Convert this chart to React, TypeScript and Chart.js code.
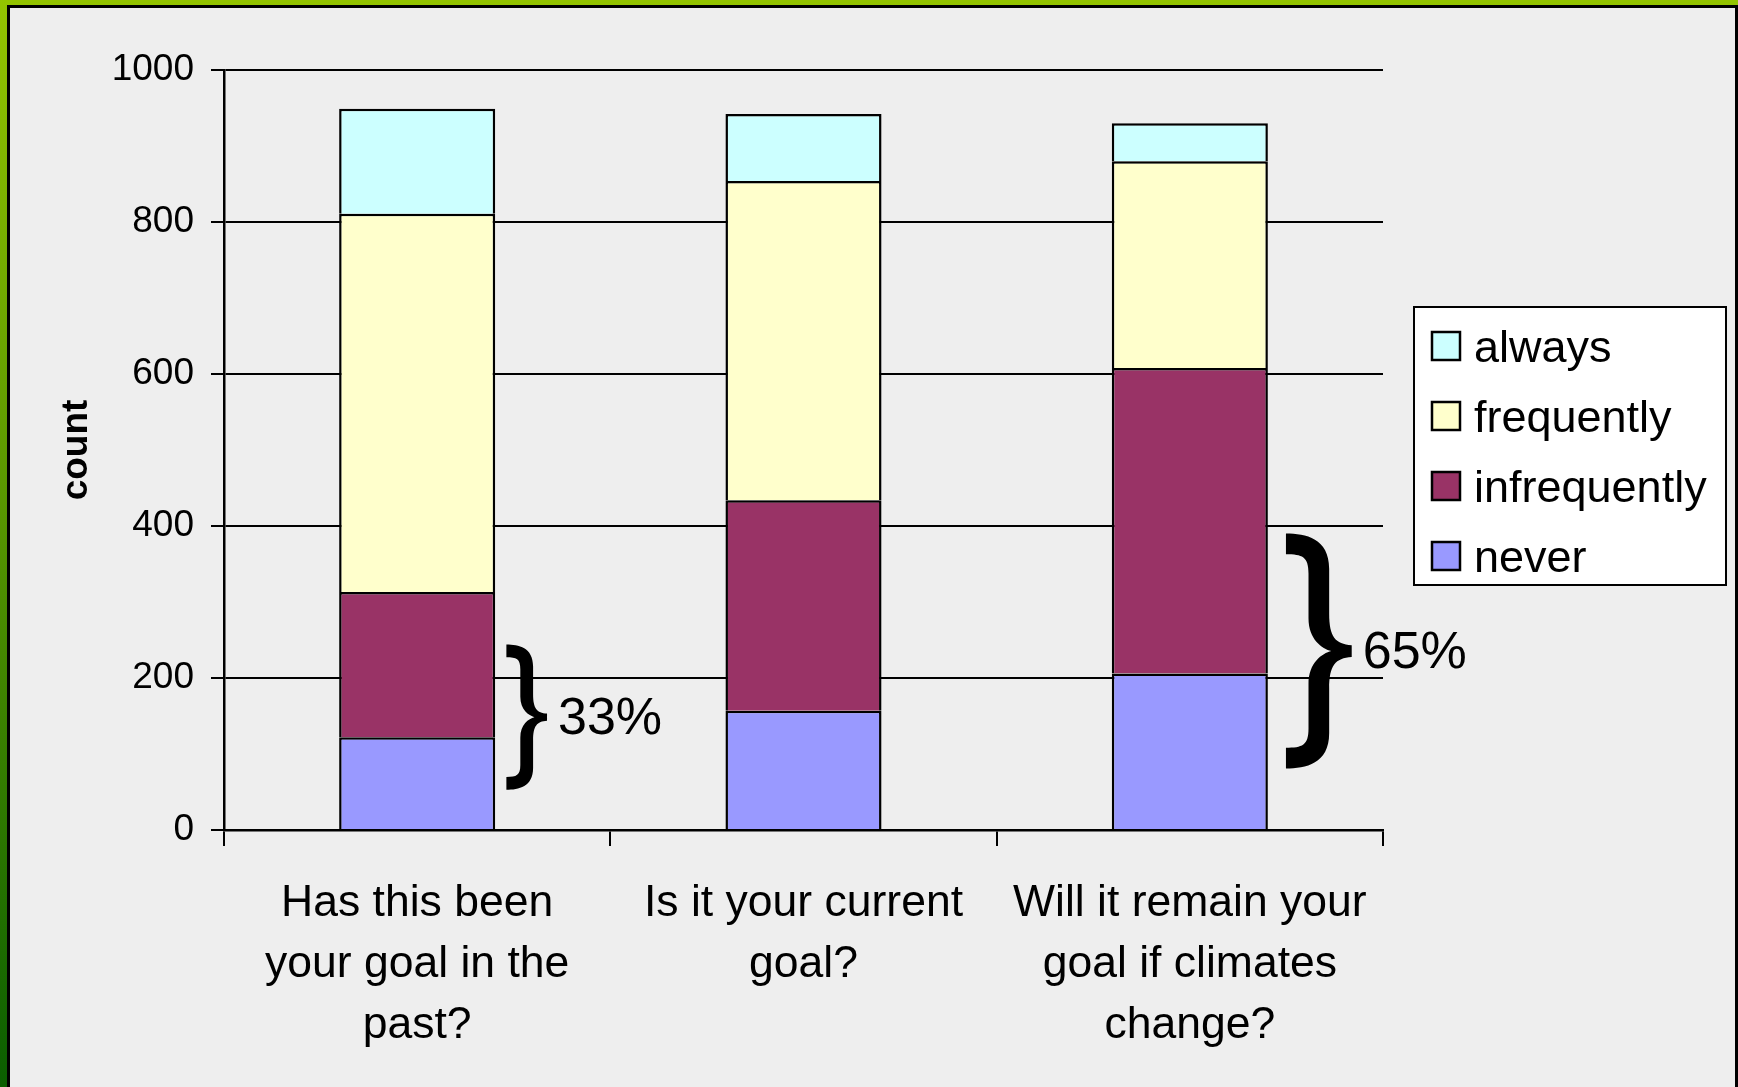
import React, { useEffect, useRef } from "react";
import { Chart, registerables } from "chart.js";

Chart.register(...registerables);

const FONT = "'Liberation Sans', Arial, Helvetica, sans-serif";

// ---- data ----
const categories = [
  ["Has this been", "your goal in the", "past?"],
  ["Is it your current", "goal?"],
  ["Will it remain your", "goal if climates", "change?"],
];
const seriesNames = ["never", "infrequently", "frequently", "always"];
const neverValues = [122, 157, 206];
const infrequentlyValues = [191, 277, 402];
const frequentlyValues = [498, 420, 272];
const alwaysValues = [138, 88, 50];
const yTickValues = [0, 200, 400, 600, 800, 1000];
const yTitle = "count";
// brace annotations (value ranges on the y axis, per category)
const braceFrom = [53, null, 81];
const braceTo = [244, null, 390];
const braceLabels = ["33%", "", "65%"];

const seriesColors = ["#9999FF", "#993366", "#FFFFCC", "#CCFFFF"];

function drawBrace(ctx: CanvasRenderingContext2D, x0: number, y0: number, h: number) {
  const w = 0.28 * h;
  const t = 0.088 * h;
  const H = h / 2;
  const sR = 0.5 * w + t / 2;
  const sL = 0.5 * w - t / 2;
  const P = (u: number, v: number): [number, number] => [x0 + u, y0 + v];
  ctx.beginPath();
  ctx.moveTo(...P(0, 0));
  ctx.bezierCurveTo(...P(0.3 * w, 0), ...P(sR, 0.02 * h), ...P(sR, 0.15 * h));
  ctx.lineTo(...P(sR, H - 0.16 * h));
  ctx.bezierCurveTo(...P(sR, H - 0.06 * h), ...P(0.75 * w, H - 0.03 * h), ...P(w, H - 0.025 * h));
  ctx.lineTo(...P(w, H + 0.025 * h));
  ctx.bezierCurveTo(...P(0.75 * w, H + 0.03 * h), ...P(sR, H + 0.06 * h), ...P(sR, H + 0.16 * h));
  ctx.lineTo(...P(sR, h - 0.15 * h));
  ctx.bezierCurveTo(...P(sR, h - 0.02 * h), ...P(0.3 * w, h), ...P(0, h));
  ctx.lineTo(...P(0, h - t));
  ctx.bezierCurveTo(...P(0.25 * w, h - t), ...P(sL, h - t - 0.01 * h), ...P(sL, h - 0.17 * h));
  ctx.lineTo(...P(sL, H + 0.14 * h));
  ctx.bezierCurveTo(...P(sL, H + 0.05 * h), ...P(0.55 * w, H + 0.01 * h), ...P(0.69 * w, H));
  ctx.bezierCurveTo(...P(0.55 * w, H - 0.01 * h), ...P(sL, H - 0.05 * h), ...P(sL, H - 0.14 * h));
  ctx.lineTo(...P(sL, 0.17 * h));
  ctx.bezierCurveTo(...P(sL, t + 0.01 * h), ...P(0.25 * w, t), ...P(0, t));
  ctx.closePath();
  ctx.fill();
}

const bracePlugin = {
  id: "braces",
  afterDatasetsDraw(chart: any) {
    const ctx: CanvasRenderingContext2D = chart.ctx;
    const meta = chart.getDatasetMeta(0);
    const yScale = chart.scales.y;
    ctx.save();
    ctx.fillStyle = "#000";
    braceFrom.forEach((from, i) => {
      const to = braceTo[i];
      if (from == null || to == null) return;
      const bar = meta.data[i];
      const right = bar.x + bar.width / 2;
      const yTop = yScale.getPixelForValue(to);
      const yBot = yScale.getPixelForValue(from);
      const h = yBot - yTop;
      const left = right + 0.077 * h;
      drawBrace(ctx, left, yTop, h);
      ctx.font = `52px ${FONT}`;
      ctx.textAlign = "left";
      ctx.textBaseline = "middle";
      ctx.fillText(braceLabels[i], left + 0.28 * h + 11, (yTop + yBot) / 2 + 2.5);
    });
    ctx.restore();
  },
};

const legendPlugin = {
  id: "boxLegend",
  afterDraw(chart: any) {
    const ctx: CanvasRenderingContext2D = chart.ctx;
    const area = chart.chartArea;
    const bx = area.right + 31;
    const bw = 312;
    const bh = 278;
    const by = (area.top + area.bottom) / 2 - bh / 2 - 4;
    ctx.save();
    ctx.fillStyle = "#FFFFFF";
    ctx.fillRect(bx, by, bw, bh);
    ctx.lineWidth = 2;
    ctx.strokeStyle = "#000";
    ctx.strokeRect(bx, by, bw, bh);
    const ds = chart.data.datasets.slice().reverse();
    ctx.font = `45px ${FONT}`;
    ctx.textAlign = "left";
    ctx.textBaseline = "alphabetic";
    ds.forEach((d: any, i: number) => {
      const sy = by + 25 + i * 70;
      const sx = bx + 18;
      ctx.fillStyle = d.backgroundColor;
      ctx.fillRect(sx, sy, 28, 28);
      ctx.strokeStyle = "#000";
      ctx.lineWidth = 2.5;
      ctx.strokeRect(sx, sy, 28, 28);
      ctx.fillStyle = "#000";
      ctx.fillText(d.label, bx + 60, sy + 30);
    });
    ctx.restore();
  },
};

export default function App() {
  const ref = useRef<HTMLCanvasElement>(null);
  useEffect(() => {
    Chart.defaults.font.family = FONT;
    Chart.defaults.color = "#000";
    const valueSets = [neverValues, infrequentlyValues, frequentlyValues, alwaysValues];
    const datasets = seriesNames.map((name, i) => ({
      label: name,
      data: valueSets[i],
      backgroundColor: seriesColors[i],
      borderColor: "#000",
      borderWidth: { top: 2.5, left: 2.5, right: 2.5, bottom: 0 },
      borderSkipped: false,
      barPercentage: 0.404,
      categoryPercentage: 1,
    }));
    const chart = new Chart(ref.current as HTMLCanvasElement, {
      type: "bar",
      data: { labels: categories as any, datasets: datasets as any },
      options: {
        responsive: false,
        animation: false,
        devicePixelRatio: 1,
        layout: { padding: { left: 0, top: 70, right: 355, bottom: 0 } },
        plugins: { legend: { display: false }, tooltip: { enabled: false } },
        scales: {
          x: {
            stacked: true,
            offset: true,
            grid: {
              offset: true,
              drawOnChartArea: false,
              drawTicks: true,
              tickLength: 16,
              color: "#000",
              lineWidth: 2,
            },
            border: { color: "#000", width: 2.5 },
            ticks: {
              color: "#000",
              font: { family: FONT, size: 44.5, lineHeight: 1.37 },
              padding: 27,
              maxRotation: 0,
              minRotation: 0,
              autoSkip: false,
            },
            afterFit: (s: any) => {
              s.height = 257;
            },
          },
          y: {
            stacked: true,
            min: 0,
            max: 1000,
            afterBuildTicks: (s: any) => {
              s.ticks = yTickValues.map((v) => ({ value: v }));
            },
            ticks: {
              color: "#000",
              font: { family: FONT, size: 37 },
              padding: 17,
              callback: (v: any) => String(v),
            },
            grid: { color: "#000", lineWidth: 2, tickLength: 13 },
            border: { color: "#000", width: 2.5 },
            title: {
              display: true,
              text: yTitle,
              color: "#000",
              font: { family: FONT, size: 37, weight: "bold" },
              padding: { top: 55, bottom: 0 },
            },
            afterFit: (s: any) => {
              s.width = 224;
            },
          },
        },
      } as any,
      plugins: [bracePlugin, legendPlugin],
    });
    return () => chart.destroy();
  }, []);

  return (
    <div
      style={{
        position: "fixed",
        left: 0,
        top: 0,
        width: 1738,
        height: 1087,
        overflow: "hidden",
        background: "linear-gradient(to bottom, #93C400 0%, #5A9800 45%, #0A5E00 100%)",
      }}
    >
      <div
        style={{
          position: "absolute",
          left: 7,
          top: 5,
          right: 0,
          bottom: -5,
          background: "#EEEEEE",
          borderTop: "3px solid #000",
          borderLeft: "3px solid #000",
          borderRight: "3px solid #000",
          boxSizing: "border-box",
        }}
      />
      <canvas
        ref={ref}
        width={1738}
        height={1087}
        style={{ position: "absolute", left: 0, top: 0, width: 1738, height: 1087 }}
      />
    </div>
  );
}
